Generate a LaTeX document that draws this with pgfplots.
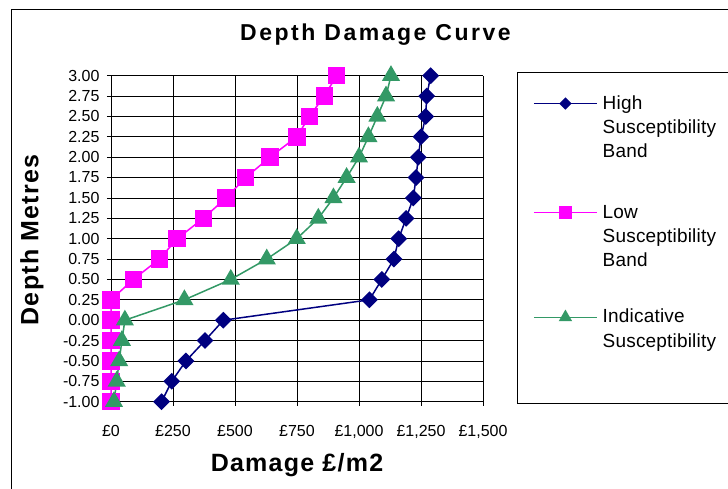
\documentclass[border=0pt]{standalone}
\usepackage{fontspec}
\setmainfont{Liberation Sans}
\usepackage{pgfplots}
\usepackage{pgfplotstable}
\pgfplotsset{compat=1.18}

\definecolor{hiband}{RGB}{0,0,128}
\definecolor{loband}{RGB}{255,0,255}
\definecolor{indic}{RGB}{51,153,102}

% damage (GBP per m2) against flood depth (m)
\pgfplotstableread{
depth  high  low  indic
-1.00   204    0    12
-0.75   245    0    23
-0.50   302    0    33
-0.25   379    0    44
 0.00   453    0    56
 0.25  1042    0   296
 0.50  1092   90   483
 0.75  1141  195   628
 1.00  1160  267   749
 1.25  1190  372   836
 1.50  1219  464   897
 1.75  1230  543   950
 2.00  1239  641  1000
 2.25  1250  749  1038
 2.50  1269  800  1074
 2.75  1273  860  1109
 3.00  1289  910  1129
}\curves

\begin{document}
\begin{tikzpicture}
\useasboundingbox (0,0) rectangle (728bp,489bp);
\clip (0,0) rectangle (728bp,489bp);
% chart frame
\draw[line width=1bp] (11bp,-20bp) -- (11bp,479.7bp) -- (760bp,479.7bp);
\begin{axis}[
  at={(111bp,87.3bp)}, anchor=south west,
  scale only axis, width=372bp, height=326bp,
  xmin=0, xmax=1500, ymin=-1, ymax=3,
  enlargelimits=false, clip=false,
  axis lines*=left, axis line style={-, black, line width=1bp},
  grid=major, grid style={black, line width=0.7bp},
  tick align=outside, major tick length=4bp,
  tick style={black, line width=0.8bp},
  xtick={0,250,500,750,1000,1250,1500},
  xticklabels={£0,£250,£500,£750,{£1,000},{£1,250},{£1,500}},
  ytick={-1,-0.75,-0.5,-0.25,0,0.25,0.5,0.75,1,1.25,1.5,1.75,2,2.25,2.5,2.75,3},
  yticklabels={-1.00,-0.75,-0.50,-0.25,0.00,0.25,0.50,0.75,1.00,1.25,1.50,1.75,2.00,2.25,2.50,2.75,3.00},
  ticklabel style={font=\fontsize{16bp}{18bp}\selectfont},
  xticklabel style={yshift=-16bp},
  yticklabel style={xshift=-4bp},
  title={Depth Damage Curve},
  title style={at={(axis description cs:0.711,1.0911)}, anchor=base,
    font=\fontsize{23bp}{26bp}\selectfont\bfseries\addfontfeatures{LetterSpace=11}},
  xlabel={Damage £/m2},
  xlabel style={at={(axis description cs:0.5,-0.2147)}, anchor=base,
    font=\fontsize{25bp}{28bp}\selectfont\bfseries\addfontfeatures{LetterSpace=5}},
  ylabel={Depth Metres},
  ylabel style={at={(axis description cs:-0.2124,0.496)}, anchor=center,
    font=\fontsize{25bp}{28bp}\selectfont\bfseries\addfontfeatures{LetterSpace=5}},
  legend image code/.code={\draw[mark repeat=2,mark phase=2,#1]
    plot coordinates {(0bp,0bp) (31.5bp,0bp) (63bp,0bp)};},
  legend image post style={every mark/.append style={scale=0.7}},
  legend style={at={(1.1344,0.9525)}, anchor=north west, draw=none, fill=none,
    inner sep=0pt, row sep=0pt, column sep=5bp,
    nodes={inner sep=0pt, text height=17.8bp, text depth=6.5bp},
    font=\fontsize{19bp}{22bp}\selectfont\addfontfeatures{LetterSpace=1}},
  legend cell align=left,
]
\addplot[color=hiband, line width=1.5bp, mark=square*, mark size=5.2bp,
  mark options={rotate=45, solid}] table[x=high, y=depth] {\curves};
\addlegendentry{High}
\addlegendimage{legend image code/.code={}}
\addlegendentry{Susceptibility}
\addlegendimage{legend image code/.code={}}
\addlegendentry{Band}
\addlegendimage{legend image code/.code={}}
\addlegendentry[text height=36bp, text depth=0bp]{}

\addplot[color=loband, line width=1.5bp, mark=square*, mark size=8bp,
  mark options={solid}] table[x=low, y=depth] {\curves};
\addlegendentry{Low}
\addlegendimage{legend image code/.code={}}
\addlegendentry{Susceptibility}
\addlegendimage{legend image code/.code={}}
\addlegendentry{Band}
\addlegendimage{legend image code/.code={}}
\addlegendentry[text height=32bp, text depth=0bp]{}

\addplot[color=indic, line width=1.5bp, mark=triangle*, mark size=9bp,
  mark options={solid}] table[x=indic, y=depth] {\curves};
\addlegendentry{Indicative}
\addlegendimage{legend image code/.code={}}
\addlegendentry{Susceptibility}
\end{axis}
% legend frame
\draw[line width=1bp] (760bp,416bp) -- (517bp,416bp) -- (517bp,85bp) -- (760bp,85bp);
\end{tikzpicture}
\end{document}
